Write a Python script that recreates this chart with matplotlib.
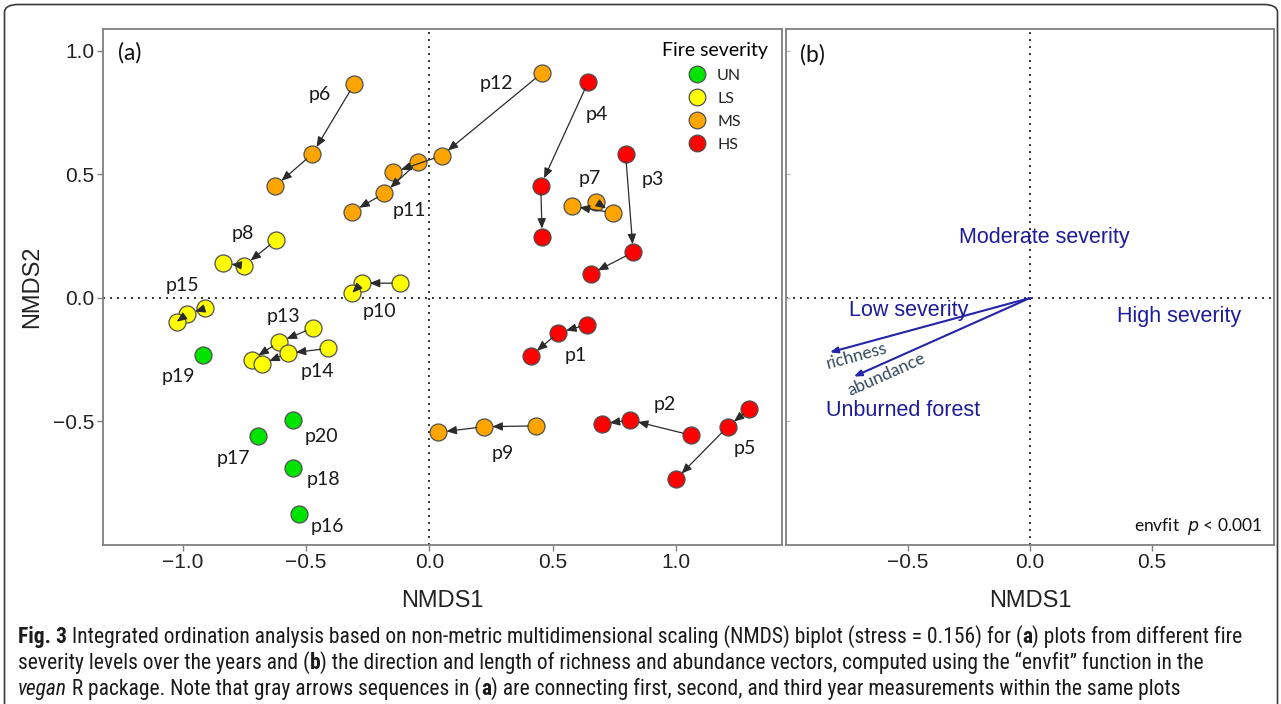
import numpy as np
import matplotlib
matplotlib.use("Agg")
import matplotlib.pyplot as plt
from matplotlib import font_manager
from matplotlib.lines import Line2D
from matplotlib.patches import FancyBboxPatch

# ---------------- data ----------------
plot_ids = ["p1", "p2", "p3", "p4", "p5", "p6", "p7", "p8", "p9", "p10",
            "p11", "p12", "p13", "p14", "p15", "p16", "p17", "p18", "p19", "p20"]
severity = ["HS", "HS", "HS", "HS", "HS", "MS", "MS", "LS", "MS", "LS",
            "MS", "MS", "LS", "LS", "LS", "UN", "UN", "UN", "UN", "UN"]
nan = np.nan
year1_x = [0.637, 1.059, 0.795, 0.644, 1.296, -0.306, 0.674, -0.622, 0.430, -0.120,
           -0.045, 0.455, -0.472, -0.410, -0.910, -0.528, -0.694, -0.555, -0.917, -0.555]
year1_y = [-0.109, -0.555, 0.583, 0.876, -0.451, 0.865, 0.390, 0.235, -0.518, 0.060,
           0.552, 0.910, -0.121, -0.204, -0.042, -0.876, -0.559, -0.687, -0.231, -0.494]
year2_x = [0.522, 0.813, 0.826, 0.451, 1.209, -0.475, 0.743, -0.751, 0.222, -0.275,
           -0.183, 0.049, -0.610, -0.575, -0.982, nan, nan, nan, nan, nan]
year2_y = [-0.140, -0.494, 0.185, 0.455, -0.521, 0.583, 0.345, 0.131, -0.521, 0.060,
           0.424, 0.576, -0.178, -0.224, -0.065, nan, nan, nan, nan, nan]
year3_x = [0.411, 0.698, 0.653, 0.457, 0.999, -0.625, 0.576, -0.836, 0.036, -0.313,
           -0.313, -0.147, -0.721, -0.680, -1.025, nan, nan, nan, nan, nan]
year3_y = [-0.235, -0.510, 0.097, 0.248, -0.734, 0.453, 0.372, 0.140, -0.544, 0.021,
           0.349, 0.509, -0.251, -0.268, -0.096, nan, nan, nan, nan, nan]

severity_levels = ["UN", "LS", "MS", "HS"]

vector_names = ["richness", "abundance"]
vector_x = [-0.820, -0.722]
vector_y = [-0.220, -0.318]

centroid_names = ["Moderate severity", "Low severity", "High severity", "Unburned forest"]
centroid_x = [0.058, -0.499, 0.610, -0.519]
centroid_y = [0.245, -0.050, -0.075, -0.457]

# ---------------- layout / style ----------------
severity_colors = {"UN": "#00E400", "LS": "#FFFF00", "MS": "#FFA500", "HS": "#FF0000"}
# label positions for plot ids (layout)
label_pos = {"p1": (0.593, -0.231), "p2": (0.955, -0.433), "p3": (0.907, 0.481),
             "p4": (0.678, 0.741), "p5": (1.279, -0.609), "p6": (-0.444, 0.822),
             "p7": (0.651, 0.485), "p8": (-0.755, 0.262), "p9": (0.299, -0.629),
             "p10": (-0.201, -0.055), "p11": (-0.082, 0.356), "p12": (0.272, 0.869),
             "p13": (-0.593, -0.076), "p14": (-0.455, -0.298), "p15": (-1.003, 0.049),
             "p16": (-0.414, -0.926), "p17": (-0.795, -0.649), "p18": (-0.428, -0.734),
             "p19": (-1.019, -0.319), "p20": (-0.440, -0.562)}
vec_label_offset = {"richness": (0.109, -0.013), "abundance": (0.135, 0.008)}

names = {f.name for f in font_manager.fontManager.ttflist}


def pick(cands, default="DejaVu Sans"):
    for c in cands:
        if c in names:
            return c
    return default


ARIAL = pick(["Liberation Sans", "Arimo", "DejaVu Sans"])
CALIBRI = pick(["Lato", "Open Sans", "Noto Sans", "DejaVu Sans"])
NARROW = pick(["Liberation Sans Narrow", "Roboto Condensed", "Open Sans Condensed",
               "DejaVu Sans Condensed", "Liberation Sans"])

W, H = 1281, 704
fig = plt.figure(figsize=(W / 100, H / 100), dpi=100)

# outer rounded frame (open at the bottom, runs off the figure)
frame = FancyBboxPatch((4.5 / W, -0.3), (1277.5 - 4.5) / W, 1.3 - 4.5 / H,
                       transform=fig.transFigure,
                       boxstyle="round,pad=0,rounding_size=0.011", fill=False,
                       edgecolor="#3a3a3a", linewidth=1.2, clip_on=False)
fig.patches.append(frame)

top_px, bot_px = 28.5, 545.0
axa = fig.add_axes([102.7 / W, 1 - bot_px / H, 679.0 / W, (bot_px - top_px) / H])
axb = fig.add_axes([786.0 / W, 1 - bot_px / H, 488.0 / W, (bot_px - top_px) / H])

YLIM = (-1.0, 1.091)
axa.set_xlim(-1.325, 1.428)
axa.set_ylim(*YLIM)
axb.set_xlim(-0.998, 0.992)
axb.set_ylim(*YLIM)

for ax in (axa, axb):
    for s in ax.spines.values():
        s.set_color("#808080")
        s.set_linewidth(1.3)
    ax.axhline(0, color="#333333", lw=1.4, ls=(0, (1, 2.6)), zorder=1)
    ax.axvline(0, color="#333333", lw=1.4, ls=(0, (1, 2.6)), zorder=1)
    ax.set_xticks([-1.0, -0.5, 0.0, 0.5, 1.0])
    ax.set_xticklabels(["\u22121.0", "\u22120.5", "0.0", "0.5", "1.0"])
    ax.tick_params(axis="both", direction="out", length=4, width=1, color="#808080",
                   labelsize=15, labelcolor="#222222", pad=2)
    for lab in ax.get_xticklabels() + ax.get_yticklabels():
        lab.set_fontfamily(ARIAL)
    ax.set_xlabel("NMDS1", fontsize=17, family=ARIAL, color="#222222", labelpad=13)

axa.set_yticks([-0.5, 0.0, 0.5, 1.0])
axa.set_yticklabels(["\u22120.5", "0.0", "0.5", "1.0"], family=ARIAL)
axa.set_ylabel("NMDS2", fontsize=17, family=ARIAL, color="#222222", labelpad=7)
axb.set_xticks([-0.5, 0.0, 0.5])
axb.set_xticklabels(["\u22120.5", "0.0", "0.5"], family=ARIAL)
axb.set_yticks([-0.5, 0.0, 0.5, 1.0])
axb.tick_params(axis="y", direction="in", length=3, color="#c0c0c0", labelleft=False)

# ---------------- panel (a) ----------------
xs = np.array([year1_x, year2_x, year3_x], dtype=float)
ys = np.array([year1_y, year2_y, year3_y], dtype=float)
for i, pid in enumerate(plot_ids):
    c = severity_colors[severity[i]]
    ok = ~np.isnan(xs[:, i])
    axa.scatter(xs[ok, i], ys[ok, i], s=150, c=c, edgecolors="#505050",
                linewidths=0.9, zorder=3)
    for k in range(2):
        if ok[k] and ok[k + 1]:
            axa.annotate("", xy=(xs[k + 1, i], ys[k + 1, i]), xytext=(xs[k, i], ys[k, i]),
                         arrowprops=dict(arrowstyle="-|>,head_length=0.6,head_width=0.25",
                                         color="#2b2b2b", lw=0.9, shrinkA=5.5, shrinkB=5.8,
                                         mutation_scale=10),
                         zorder=4)
    lx, ly = label_pos[pid]
    axa.text(lx, ly, pid, fontsize=14, family=CALIBRI, color="#1a1a1a",
             ha="center", va="center", zorder=5)

axa.text(0.040, 0.952, "(a)", transform=axa.transAxes, fontsize=16.5, family=CALIBRI,
         ha="center", va="center", color="#111111")

handles = [Line2D([], [], ls="", marker="o", markersize=12,
                  markerfacecolor=severity_colors[s], markeredgecolor="#505050",
                  markeredgewidth=0.9) for s in severity_levels]
leg = axa.legend(handles, severity_levels, title="Fire severity", loc="upper right",
                 bbox_to_anchor=(0.980, 0.973), frameon=False, borderaxespad=0,
                 borderpad=0, handlelength=1.0, handletextpad=0.75, labelspacing=0.56,
                 prop={"family": CALIBRI, "size": 11.5},
                 title_fontproperties={"family": CALIBRI, "size": 14})
for t in leg.get_texts():
    t.set_color("#222222")

# ---------------- panel (b) ----------------
BLUE = "#1c1c98"
for name, vx, vy in zip(vector_names, vector_x, vector_y):
    axb.annotate("", xy=(vx, vy), xytext=(0, 0),
                 arrowprops=dict(arrowstyle="-|>,head_length=0.5,head_width=0.2",
                                 color="#2424a8", lw=1.5, shrinkA=0, shrinkB=0,
                                 mutation_scale=9), zorder=4)
    p0 = axb.transData.transform((0, 0))
    p1 = axb.transData.transform((vx, vy))
    ang = np.degrees(np.arctan2(p0[1] - p1[1], p0[0] - p1[0]))
    ox, oy = vec_label_offset[name]
    axb.text(vx + ox, vy + oy, name, rotation=ang, rotation_mode="anchor",
             ha="center", va="center", fontsize=12.5, family=CALIBRI, color="#34495e",
             zorder=5)

for name, cx, cy in zip(centroid_names, centroid_x, centroid_y):
    axb.text(cx, cy, name, ha="center", va="center", fontsize=15.5, family=ARIAL,
             color=BLUE, zorder=5)

axb.text(0.055, 0.950, "(b)", transform=axb.transAxes, fontsize=16.5, family=CALIBRI,
         ha="center", va="center", color="#111111")
axb.text(0.977, 0.035, r"envfit  $p$ < 0.001", transform=axb.transAxes, fontsize=12.5,
         family=CALIBRI, ha="right", va="center", color="#111111")

# ---------------- caption ----------------
lines = [
    [("Fig. 3", "bold", "normal"),
     (" Integrated ordination analysis based on non-metric multidimensional scaling (NMDS) biplot (stress = 0.156) for (", "normal", "normal"),
     ("a", "bold", "normal"), (") plots from different fire", "normal", "normal")],
    [("severity levels over the years and (", "normal", "normal"), ("b", "bold", "normal"),
     (") the direction and length of richness and abundance vectors, computed using the \u201cenvfit\u201d function in the", "normal", "normal")],
    [("vegan", "normal", "italic"),
     (" R package. Note that gray arrows sequences in (", "normal", "normal"),
     ("a", "bold", "normal"),
     (") are connecting first, second, and third year measurements within the same plots", "normal", "normal")],
]
renderer = fig.canvas.get_renderer()


def line_width(segs, size):
    tot = 0
    for txt, wt, st in segs:
        t = fig.text(0, 0, txt, fontsize=size, family=NARROW, weight=wt, style=st)
        tot += t.get_window_extent(renderer).width
        t.remove()
    return tot


base = 12.0
w1 = line_width(lines[0], base)
cap_size = base * (1237.0 / w1)
cap_size = min(cap_size, 15.5)
baselines = [643, 669, 695]
for segs, yb in zip(lines, baselines):
    x = 18.0
    for txt, wt, st in segs:
        t = fig.text(x / W, 1 - yb / H, txt, fontsize=cap_size, family=NARROW, weight=wt,
                     style=st, va="baseline", ha="left", color="#1a1a1a")
        x += t.get_window_extent(renderer).width

fig.savefig("out.png", dpi=100)
